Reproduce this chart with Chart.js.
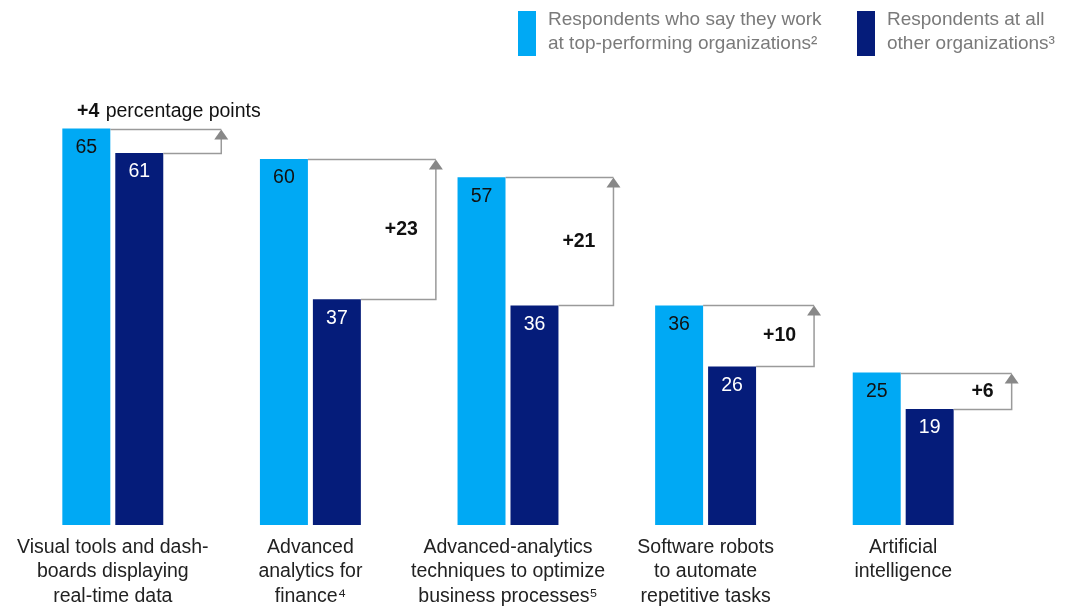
<!DOCTYPE html>
<html>
<head>
<meta charset="utf-8">
<script src="https://cdn.jsdelivr.net/npm/chart.js@4/dist/chart.umd.min.js"></script>
<style>
  html, body { margin: 0; padding: 0; background: #ffffff; }
  #wrap { width: 1068px; height: 607px; position: relative; }
</style>
</head>
<body>
<div id="wrap"><canvas id="chart"></canvas></div>
<script>
//Chart data
const categories = [
  ["Visual tools and dash-", "boards displaying", "real-time data"],
  ["Advanced", "analytics for", "finance⁴"],
  ["Advanced-analytics", "techniques to optimize", "business processes⁵"],
  ["Software robots", "to automate", "repetitive tasks"],
  ["Artificial", "intelligence"],
];
const topPerformers = [65, 60, 57, 36, 25];
const allOthers = [61, 37, 36, 26, 19];
const gapLabels = ["+4", "+23", "+21", "+10", "+6"];
const seriesNames = [
  ["Respondents who say they work", "at top-performing organizations²"],
  ["Respondents at all", "other organizations³"],
];

const lightBlue = "#00a9f4";
const darkBlue = "#051c7a";
const bracketGray = "#9a9a9a";
const fontFamily = "'Liberation Sans', Arial, sans-serif";

//how far the bracket reaches past the dark bar
const bracketReach = [58, 75, 55, 58, 58];

//Value labels and difference brackets
const barAnnotations = {
  id: "barAnnotations",
  afterDatasetsDraw(chart) {
    const ctx = chart.ctx;
    const light = chart.getDatasetMeta(0).data;
    const dark = chart.getDatasetMeta(1).data;
    ctx.save();
    ctx.font = "19.5px " + fontFamily;
    ctx.textAlign = "center";
    ctx.textBaseline = "middle";
    light.forEach((bar, i) => {
      ctx.fillStyle = "#111111";
      ctx.fillText(String(topPerformers[i]), bar.x, bar.y + 19);
      ctx.fillStyle = "#ffffff";
      ctx.fillText(String(allOthers[i]), dark[i].x, dark[i].y + 19);
    });

    light.forEach((bar, i) => {
      const d = dark[i];
      const lightRight = bar.x + bar.width / 2;
      const darkRight = d.x + d.width / 2;
      const vx = darkRight + bracketReach[i];
      const yTop = Math.round(bar.y) + 0.5;
      const yBot = Math.round(d.y) + 0.5;
      ctx.strokeStyle = bracketGray;
      ctx.lineWidth = 1.5;
      ctx.beginPath();
      ctx.moveTo(lightRight, yTop);
      ctx.lineTo(vx, yTop);
      ctx.moveTo(darkRight, yBot);
      ctx.lineTo(vx, yBot);
      ctx.lineTo(vx, yTop + 8);
      ctx.stroke();
      ctx.fillStyle = "#888888";
      ctx.beginPath();
      ctx.moveTo(vx, yTop);
      ctx.lineTo(vx - 7, yTop + 10);
      ctx.lineTo(vx + 7, yTop + 10);
      ctx.closePath();
      ctx.fill();

      ctx.fillStyle = "#111111";
      ctx.font = "bold 19.5px " + fontFamily;
      if (i === 0) {
        ctx.textAlign = "left";
        ctx.fillText(gapLabels[i], 77, 112);
        const w = ctx.measureText(gapLabels[i]).width;
        ctx.font = "19.5px " + fontFamily;
        ctx.fillText(" percentage points", 77 + w + 1, 112);
      } else {
        ctx.textAlign = "right";
        ctx.fillText(gapLabels[i], vx - 18, (yTop + yBot) / 2);
      }
    });
    ctx.restore();
  },
};

//Two-line legend top right
const topLegend = {
  id: "topLegend",
  afterDraw(chart) {
    const ctx = chart.ctx;
    const items = [
      { color: lightBlue, x: 518 },
      { color: darkBlue, x: 857 },
    ];
    ctx.save();
    ctx.font = "19px " + fontFamily;
    ctx.textAlign = "left";
    ctx.textBaseline = "middle";
    items.forEach((item, i) => {
      ctx.fillStyle = item.color;
      ctx.fillRect(item.x, 11, 18, 45);
      ctx.fillStyle = "#7a7a7a";
      seriesNames[i].forEach((line, j) => {
        ctx.fillText(line, item.x + 30, 20 + j * 24);
      });
    });
    ctx.restore();
  },
};

new Chart(document.getElementById("chart"), {
  type: "bar",
  data: {
    labels: categories,
    datasets: [
      {
        label: seriesNames[0].join(" "),
        data: topPerformers,
        backgroundColor: lightBlue,
        barPercentage: 0.906,
        categoryPercentage: 0.536,
      },
      {
        label: seriesNames[1].join(" "),
        data: allOthers,
        backgroundColor: darkBlue,
        barPercentage: 0.906,
        categoryPercentage: 0.536,
      },
    ],
  },
  options: {
    responsive: true,
    maintainAspectRatio: false,
    animation: false,
    layout: { padding: { top: 98, left: 14, right: 66, bottom: 0 } },
    plugins: {
      legend: { display: false },
      tooltip: { enabled: false },
    },
    scales: {
      x: {
        grid: { display: false, drawTicks: false },
        border: { display: false },
        ticks: {
          color: "#222222",
          padding: 10,
          font: { family: fontFamily, size: 19.5, lineHeight: 1.256 },
          maxRotation: 0,
          autoSkip: false,
        },
        afterFit(scale) {
          scale.height = 82;
        },
      },
      y: {
        display: false,
        min: 0,
        max: 70,
      },
    },
  },
  plugins: [barAnnotations, topLegend],
});
</script>
</body>
</html>
